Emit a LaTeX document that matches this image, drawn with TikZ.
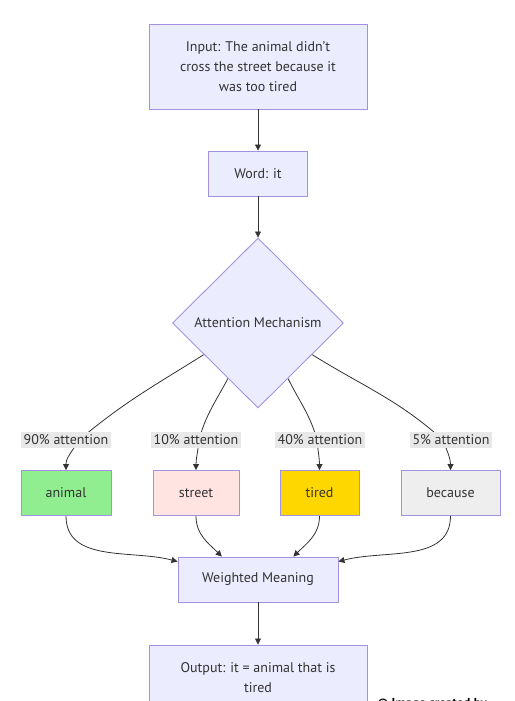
\documentclass[tikz,border=0pt]{standalone}
\usepackage{fontspec}
\setmainfont{PT Sans}
\usetikzlibrary{shapes.geometric,arrows.meta,backgrounds,calc}

\definecolor{boxfill}{HTML}{ECECFF}
\definecolor{boxline}{HTML}{A392DF}
\definecolor{edgeline}{HTML}{333333}
\definecolor{lblfill}{HTML}{E8E8E8}
\definecolor{animalfill}{HTML}{90EE90}
\definecolor{streetfill}{HTML}{FFE4E1}
\definecolor{tiredfill}{HTML}{FFD700}
\definecolor{becausefill}{HTML}{EEEEEE}

\begin{document}
\begin{tikzpicture}[x=1pt,y=-1pt,
  txt/.style={font=\fontsize{14}{20}\selectfont, text=black!80},
  box/.style={txt, draw=boxline, fill=boxfill, line width=0.9pt, minimum height=45pt, align=center},
  lbl/.style={txt, fill=lblfill, inner sep=2.5pt},
  edge/.style={draw=edgeline, line width=0.8pt},
  arr/.style={edge, -{Triangle[length=6pt,width=6pt]}}]

 \useasboundingbox (0,0) rectangle (514,701); % taille de l'image

 \node[box, minimum width=218pt, minimum height=85pt] (input) at (258,66.5)
   {Input: The animal didn't\\ cross the street because it\\ was too tired};
 \node[box, minimum width=99pt] (word) at (258,173.5) {Word: it};
 \node[diamond, draw=boxline, fill=boxfill, line width=0.9pt, inner sep=0pt,
   minimum width=171pt, minimum height=170pt, txt] (mech) at (258,323) {Attention Mechanism};

 % les poids
 \node[lbl] (l90) at (66,440) {90\% attention};
 \node[lbl] (l10) at (196,440) {10\% attention};
 \node[lbl] (l40) at (320,440) {40\% attention};
 \node[lbl] (l5) at (451,440) {5\% attention};

 \node[box, fill=animalfill, minimum width=90pt] (animal) at (66,493) {animal};
 \node[box, fill=streetfill, minimum width=86pt] (street) at (196,493) {street};
 \node[box, fill=tiredfill, minimum width=79pt] (tired) at (319.5,493) {tired};
 \node[box, fill=becausefill, minimum width=99pt] (because) at (450.5,493) {because};

 \node[box, minimum width=160pt] (weighted) at (258,579.5) {Weighted Meaning};
 \node[box, minimum width=218pt, minimum height=65pt] (output) at (258,677.5)
   {Output: it = animal that is\\ tired};

 \node[anchor=base west, font=\bfseries\fontsize{13}{13}\selectfont] (credit) at (374,707)
   {© Image created by};

 \draw[arr] (input) -- (word);
 \draw[arr] (word) -- (mech);
 \draw[arr] (weighted) -- (output);

 % les branches passent sous les étiquettes
 \begin{scope}[on background layer]
  \draw[edge] ($(mech.west)!0.37!(mech.south)$) to[out=-148,in=40] ([xshift=13pt]l90.center);
  \draw[edge] ($(mech.west)!0.65!(mech.south)$) to[out=-118,in=75] ([xshift=3pt]l10.center);
  \draw[edge] ($(mech.east)!0.65!(mech.south)$) to[out=-64,in=105] ([xshift=-3pt]l40.center);
  \draw[edge] ($(mech.east)!0.37!(mech.south)$) to[out=-32,in=138] ([xshift=-8pt]l5.center);
  \draw[arr] ([xshift=13pt]l90.center) to[out=-120,in=90] (animal.north);
  \draw[arr] ([xshift=3pt]l10.center) to[out=-95,in=90] (street.north);
  \draw[arr] ([xshift=-3pt]l40.center) to[out=-85,in=90] (tired.north);
  \draw[arr] ([xshift=-8pt]l5.center) to[out=-70,in=90] (because.north);
 \end{scope}

 \draw[arr] (animal.south) to[out=-90,in=165] ([yshift=-5pt]weighted.north west);
 \draw[arr] (street.south) to[out=-90,in=135] ($(weighted.north west)!0.275!(weighted.north east)$);
 \draw[arr] (tired.south) to[out=-90,in=45] ($(weighted.north west)!0.72!(weighted.north east)$);
 \draw[arr] (because.south) to[out=-90,in=15] ([yshift=-5pt]weighted.north east);

\end{tikzpicture}
\end{document}
